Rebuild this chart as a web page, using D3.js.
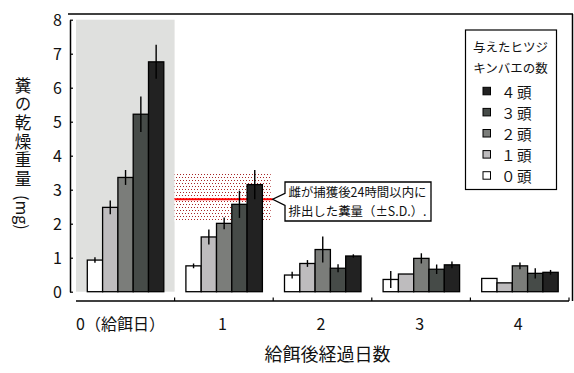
<!DOCTYPE html>
<html>
<head>
<meta charset="utf-8">
<script src="https://cdn.jsdelivr.net/npm/d3@7"></script>
<style>
  html, body { margin: 0; padding: 0; background: #fff; }
  svg { display: block; font-family: "Noto Sans CJK JP", "Noto Sans", sans-serif; }
</style>
</head>
<body>
<svg id="chart" width="574" height="373"></svg>
<script>
// ---- data ----
const days = ["0（給餌日）", "1", "2", "3", "4"];
const seriesNames = ["０頭", "１頭", "２頭", "３頭", "４頭"];
const seriesColors = ["#ffffff", "#bebcbe", "#7b7d7a", "#464b48", "#222222"];
const mean0 = [0.93, 0.76, 0.49, 0.36, 0.39];
const mean1 = [2.48, 1.61, 0.83, 0.52, 0.26];
const mean2 = [3.36, 2.01, 1.24, 0.98, 0.76];
const mean3 = [5.22, 2.57, 0.69, 0.66, 0.54];
const mean4 = [6.76, 3.15, 1.05, 0.79, 0.57];
const sd0 = [0.08, 0.07, 0.10, 0.25, 0.00];
const sd1 = [0.20, 0.22, 0.10, 0.00, 0.00];
const sd2 = [0.22, 0.17, 0.38, 0.15, 0.10];
const sd3 = [0.52, 0.40, 0.12, 0.14, 0.15];
const sd4 = [0.50, 0.43, 0.05, 0.10, 0.07];
const yTicks = [0, 1, 2, 3, 4, 5, 6, 7, 8];
const femaleMean = 2.72, femaleLow = 2.06, femaleHigh = 3.51;
const legendTitle = ["与えたヒツジ", "キンバエの数"];
const calloutLines = ["雌が捕獲後24時間以内に", "排出した糞量（±S.D.）."];
const xTitle = "給餌後経過日数";
const yTitleMain = "糞の乾燥重量";
const yTitleUnit = "(mg)";

const means = [mean0, mean1, mean2, mean3, mean4];
const sds = [sd0, sd1, sd2, sd3, sd4];

// ---- layout ----
const svg = d3.select("#chart");
const x = d3.scaleBand().domain(days).range([76, 569]);
const xi = d3.scaleBand().domain(d3.range(seriesNames.length)).range([11.3, 87.8]);
const y = d3.scaleLinear().domain([0, 8]).range([291.7, 19.7]);

// pattern for the female region
const defs = svg.append("defs");
const pat = defs.append("pattern").attr("id", "dots")
  .attr("patternUnits", "userSpaceOnUse").attr("width", 6).attr("height", 6);
pat.append("rect").attr("width", 6).attr("height", 6).attr("fill", "#fff");
[[0, 0], [3, 0], [1.5, 3], [4.5, 3]].forEach(([px, py]) => {
  pat.append("rect").attr("x", Math.round(px)).attr("y", py).attr("width", 1).attr("height", 1).attr("fill", "#a82828");
});

// gray feeding-day background
svg.append("rect")
  .attr("x", x(days[0])).attr("y", y(8))
  .attr("width", x.bandwidth()).attr("height", y(0) - y(8))
  .attr("fill", "#dfe0de");

// female dotted band
const fx0 = x(days[1]), fx1 = x(days[1]) + x.bandwidth() - 2.5;
svg.append("rect")
  .attr("x", fx0).attr("y", y(femaleHigh))
  .attr("width", fx1 - fx0).attr("height", y(femaleLow) - y(femaleHigh))
  .attr("fill", "url(#dots)");
svg.append("line")
  .attr("x1", fx0).attr("x2", fx1 + 2)
  .attr("y1", y(femaleMean)).attr("y2", y(femaleMean))
  .attr("stroke", "#ff0000").attr("stroke-width", 2);

// bars
const rows = [];
days.forEach((d, di) => seriesNames.forEach((s, si) => {
  rows.push({ day: d, si, mean: means[si][di], sd: sds[si][di] });
}));
svg.append("g").selectAll("rect").data(rows).join("rect")
  .attr("x", r => x(r.day) + xi(r.si))
  .attr("y", r => y(r.mean))
  .attr("width", xi.bandwidth())
  .attr("height", r => y(0) - y(r.mean))
  .attr("fill", r => seriesColors[r.si])
  .attr("stroke", "#000").attr("stroke-width", 1.3);

// error bars
svg.append("g").selectAll("line").data(rows.filter(r => r.sd > 0)).join("line")
  .attr("x1", r => x(r.day) + xi(r.si) + xi.bandwidth() / 2)
  .attr("x2", r => x(r.day) + xi(r.si) + xi.bandwidth() / 2)
  .attr("y1", r => y(r.mean + r.sd))
  .attr("y2", r => y(r.mean - r.sd))
  .attr("stroke", "#000").attr("stroke-width", 1.4);

// y axis
const yAxis = d3.axisLeft(y).tickValues(yTicks).tickFormat(d3.format("d"))
  .tickSizeInner(-3).tickSizeOuter(0).tickPadding(8);
const gy = svg.append("g").attr("transform", "translate(70,0)").call(yAxis);
gy.select(".domain").attr("stroke-width", 1.5);
gy.selectAll(".tick line").attr("stroke-width", 1.2);
gy.selectAll(".tick text")
  .attr("font-family", "'Noto Sans CJK JP', sans-serif")
  .attr("font-size", 16).attr("fill", "#111").attr("dy", "0.36em");

// frame: top and right
svg.append("line").attr("x1", 68).attr("x2", 573).attr("y1", 14).attr("y2", 14)
  .attr("stroke", "#000").attr("stroke-width", 1.5);
svg.append("line").attr("x1", 572.5).attr("x2", 572.5).attr("y1", 14).attr("y2", 301)
  .attr("stroke", "#000").attr("stroke-width", 1.5);

// x axis line with boundary ticks
const xAxisY = 301;
const [xr0, xr1] = x.range();
svg.append("line").attr("x1", xr0).attr("x2", xr1).attr("y1", xAxisY).attr("y2", xAxisY)
  .attr("stroke", "#000").attr("stroke-width", 1.5);
const bounds = days.slice(1).map(d => x(d)).concat([xr1]);
svg.append("g").selectAll("line").data(bounds).join("line")
  .attr("x1", d => d).attr("x2", d => d)
  .attr("y1", xAxisY).attr("y2", xAxisY - 3.5)
  .attr("stroke", "#000").attr("stroke-width", 1.2);

// x labels
svg.append("g").selectAll("text").data(days).join("text")
  .attr("x", (d, i) => i === 0 ? x(d) : x(d) + x.bandwidth() / 2 - 1.5)
  .attr("y", 323)
  .attr("text-anchor", (d, i) => i === 0 ? "start" : "middle")
  .attr("dominant-baseline", "central")
  .attr("font-size", 16).attr("fill", "#111")
  .text(d => d);

// x title
svg.append("text")
  .attr("x", (xr0 + xr1) / 2 + 5).attr("y", 352.5)
  .attr("text-anchor", "middle").attr("dominant-baseline", "central")
  .attr("font-size", 18).attr("fill", "#111")
  .text(xTitle);

// y title (vertical writing)
const yt = svg.append("text")
  .attr("x", 23).attr("y", 77)
  .attr("writing-mode", "vertical-rl")
  .attr("font-size", 16.5).attr("fill", "#111");
yt.append("tspan").attr("letter-spacing", 2.2).text(yTitleMain);
yt.append("tspan").attr("dy", 6).attr("font-size", 16).text(yTitleUnit);

// callout
const tipX = fx1 + 2, tipY = y(femaleMean);
const bx0 = 285, bx1 = 431, by0 = 182, by1 = 221;
svg.append("path")
  .attr("d", `M${bx0},${by0} H${bx1} V${by1} H${bx0} V${tipY + 6.3} L${tipX},${tipY} L${bx0},${tipY - 6} Z`)
  .attr("fill", "#fff").attr("stroke", "#000").attr("stroke-width", 1.3);
svg.append("g").selectAll("text").data(calloutLines).join("text")
  .attr("x", 288.5).attr("y", (d, i) => 191.5 + i * 18.5)
  .attr("dominant-baseline", "central")
  .attr("font-size", 12.5).attr("fill", "#111")
  .attr("textLength", 138).attr("lengthAdjust", "spacingAndGlyphs")
  .text(d => d);

// legend
const lg = svg.append("g");
lg.append("rect").attr("x", 465.5).attr("y", 30).attr("width", 91).attr("height", 159.5)
  .attr("fill", "#fff").attr("stroke", "#000").attr("stroke-width", 1.2);
lg.selectAll("text.title").data(legendTitle).join("text").attr("class", "title")
  .attr("x", 510.5).attr("y", (d, i) => 46 + i * 21.5)
  .attr("text-anchor", "middle").attr("dominant-baseline", "central")
  .attr("font-size", 12.5).attr("fill", "#111")
  .text(d => d);
const legendOrder = d3.range(seriesNames.length).reverse();
const items = lg.selectAll("g.item").data(legendOrder).join("g").attr("class", "item")
  .attr("transform", (d, i) => `translate(0,${91.3 + i * 21.1})`);
items.append("rect").attr("x", 483).attr("y", -4).attr("width", 7.5).attr("height", 7.5)
  .attr("fill", d => seriesColors[d]).attr("stroke", "#000").attr("stroke-width", 1);
items.append("text").attr("x", 501).attr("y", 0)
  .attr("dominant-baseline", "central")
  .attr("font-size", 14.5).attr("letter-spacing", 1.5).attr("fill", "#111")
  .text(d => seriesNames[d]);
</script>
</body>
</html>
